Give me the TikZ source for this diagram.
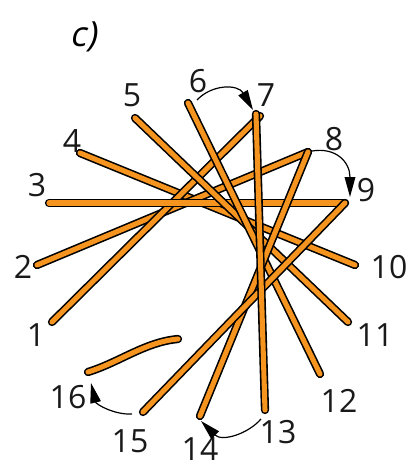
\documentclass[tikz,border=0pt]{standalone}
\usepackage{fontspec}
\setmainfont{Open Sans}
\newfontfamily\slantfont[FakeSlant=0.2]{Open Sans}
\usetikzlibrary{arrows.meta}
\definecolor{stickorange}{RGB}{246,148,32}
\tikzset{
  stickouter/.style={line width=6.2pt, line cap=round, draw=black},
  stickinner/.style={line width=3.8pt, line cap=round, draw=stickorange},
  turnarrow/.style={draw=black, line width=0.9pt, -{Triangle[length=15pt,width=8pt]}},
  numlabel/.style={font=\fontsize{24}{28}\selectfont, inner sep=0pt, text=black!90}
}
\newcommand{\stick}[2]{\draw[stickouter] (#1) -- (#2); \draw[stickinner] (#1) -- (#2);}
\begin{document}
\begin{tikzpicture}[x=0.75pt,y=-0.75pt]
\useasboundingbox (0,0) rectangle (411,462);
% stick end points
\coordinate (p1) at (52,322);
\coordinate (p2) at (37,265);
\coordinate (p3) at (49,203);
\coordinate (p4) at (80,153);
\coordinate (p5) at (135,118);
\coordinate (p6) at (188,103);
\coordinate (p7) at (256,114);
\coordinate (p7b) at (260,116);
\coordinate (p8) at (308,152);
\coordinate (p9) at (345,203);
\coordinate (p10) at (355,265);
\coordinate (p11) at (348,322);
\coordinate (p12) at (320,374);
\coordinate (p13) at (265,410);
\coordinate (p14) at (200,416);
\coordinate (p15) at (143,412);
\coordinate (p16) at (88,372);
\coordinate (p16b) at (178,339);
% sticks
\stick{p4}{p10}
\stick{p2}{p8}
\stick{p1}{p7b}
\stick{p3}{p9}
\stick{p5}{p11}
\stick{p6}{p12}
\stick{p8}{p14}
\stick{p9}{p15}
\stick{p7}{p13}
\draw[stickouter] (p16) .. controls (120,362) and (145,342) .. (p16b);
\draw[stickinner] (p16) .. controls (120,362) and (145,342) .. (p16b);
% labels
\node[numlabel] (l1) at (36,335) {1};
\node[numlabel] (l2) at (23,267) {2};
\node[numlabel] (l3) at (37,185) {3};
\node[numlabel] (l4) at (72,141) {4};
\node[numlabel] (l5) at (132,95) {5};
\node[numlabel] (l6) at (198,81) {6};
\node[numlabel] (l7) at (266,95) {7};
\node[numlabel] (l8) at (334,139) {8};
\node[numlabel] (l9) at (366,190) {9};
\node[numlabel] (l10) at (389,267) {10};
\node[numlabel] (l11) at (375,335) {11};
\node[numlabel] (l12) at (339,401) {12};
\node[numlabel] (l13) at (278,432) {13};
\node[numlabel] (l14) at (200,449) {14};
\node[numlabel] (l15) at (130,441) {15};
\node[numlabel] (l16) at (68,397) {16};
\node[font=\slantfont\fontsize{26}{30}\selectfont, inner sep=0pt] (title) at (83,37) {c)};
% turn arrows
\coordinate (a6s) at (197,100);
\coordinate (a7e) at (253,110);
\coordinate (a8s) at (312,151);
\coordinate (a9e) at (350,197);
\coordinate (a13s) at (261,419);
\coordinate (a14e) at (201,421);
\coordinate (a15s) at (132,414);
\coordinate (a16e) at (91,383);
\draw[turnarrow] (a6s) .. controls (212,84) and (238,84) .. (a7e);
\draw[turnarrow] (a8s) .. controls (336,147) and (350,162) .. (a9e);
\draw[turnarrow] (a13s) .. controls (248,434) and (222,442) .. (a14e);
\draw[turnarrow] (a15s) .. controls (114,415) and (96,404) .. (a16e);
\end{tikzpicture}
\end{document}
